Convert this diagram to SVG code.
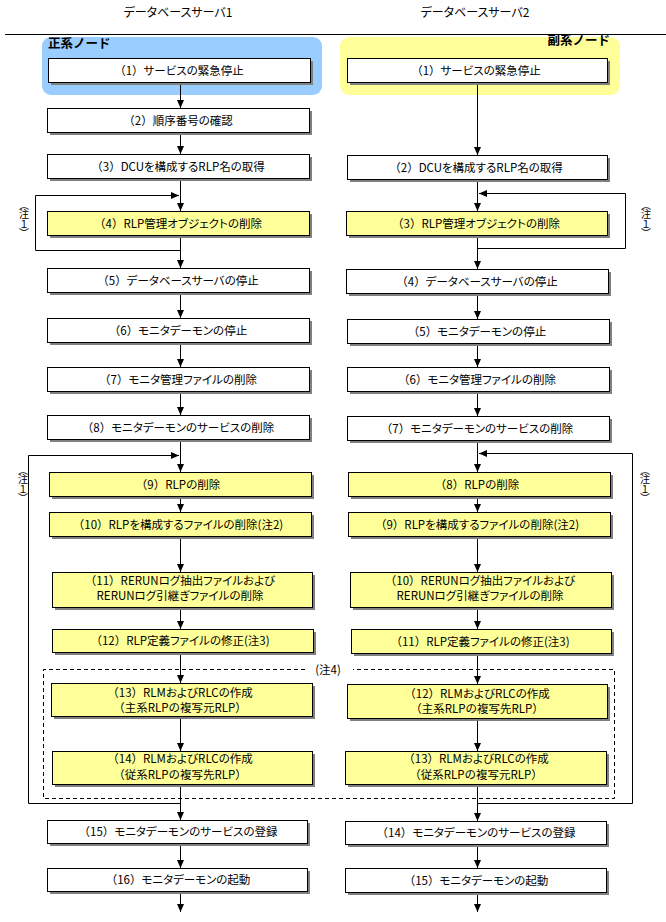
<svg xmlns="http://www.w3.org/2000/svg" width="666" height="922" viewBox="0 0 666 922">
<defs>
<marker id="ah" markerWidth="8" markerHeight="8" viewBox="0 0 8 8" refX="8" refY="4" orient="auto" markerUnits="userSpaceOnUse"><path d="M0,0.5 L8,4 L0,7.5 z" fill="#000"/></marker>
<style>
.sh{fill:#808080}
.bw{fill:#fff;stroke:#000;stroke-width:1}
.by{fill:#ffff99;stroke:#000;stroke-width:1}
.t{font-family:"Noto Sans CJK JP","Noto Sans",sans-serif;font-size:11.5px;text-anchor:middle;fill:#000;font-feature-settings:"palt"}
.n{font-feature-settings:normal}
.h{font-family:"Noto Sans CJK JP","Noto Sans",sans-serif;font-size:12px;text-anchor:middle;fill:#000;font-feature-settings:"palt"}
.lb{font-family:"Noto Sans CJK JP","Noto Sans",sans-serif;font-size:12.5px;font-weight:bold;fill:#000}
.v{font-family:"Noto Sans CJK JP","Noto Sans",sans-serif;font-size:10px;text-anchor:middle;fill:#000;writing-mode:vertical-rl;font-feature-settings:"vpal"}
.c{stroke:#000;fill:none;stroke-width:1}
.a{marker-end:url(#ah)}
.d{stroke:#000;fill:none;stroke-width:1;stroke-dasharray:4,3}
</style>
</defs>
<rect width="666" height="922" fill="#fff"/>

<g id="header">
<text class="h" x="178" y="17">データベースサーバ1</text>
<text class="h" x="475" y="17">データベースサーバ2</text>
<line class="c" x1="5" y1="34.5" x2="666" y2="34.5"/>
</g>

<g id="primary-node">
<rect x="42" y="37" width="280" height="58" rx="9" fill="#99ccff"/>
<text class="lb" x="48" y="48">正系ノード</text>
</g>
<g id="secondary-node">
<rect x="340" y="37" width="280" height="58" rx="9" fill="#ffff99"/>
<text class="lb" x="610" y="45" text-anchor="end">副系ノード</text>
</g>

<g id="connectors">
<path class="c a" d="M180.5,82 V108"/>
<path class="c a" d="M180.5,132 V154"/>
<path class="c a" d="M180.5,178 V211"/>
<path class="c a" d="M180.5,250.5 H35.5 V195.5 H179"/>
<path class="c a" d="M180.5,235 V268"/>
<path class="c a" d="M180.5,292 V318"/>
<path class="c a" d="M180.5,342 V367"/>
<path class="c a" d="M180.5,391 V415"/>
<path class="c a" d="M180.5,439 V472"/>
<path class="c a" d="M180.5,803.5 H28.5 V455.5 H179"/>
<path class="c a" d="M180.5,496 V512"/>
<path class="c a" d="M180.5,536 V572"/>
<path class="c a" d="M180.5,607 V629"/>
<path class="c a" d="M180.5,652 V683"/>
<path class="c a" d="M180.5,716 V751"/>
<path class="c a" d="M180.5,784 V820"/>
<path class="c a" d="M180.5,843 V868"/>
<path class="c a" d="M180.5,891 V912"/>

<path class="c a" d="M477.5,82 V155"/>
<path class="c a" d="M477.5,179 V211"/>
<path class="c a" d="M477.5,248.5 H625.5 V193.5 H479"/>
<path class="c a" d="M477.5,235 V269"/>
<path class="c a" d="M477.5,293 V319"/>
<path class="c a" d="M477.5,343 V367"/>
<path class="c a" d="M477.5,391 V416"/>
<path class="c a" d="M477.5,440 V472"/>
<path class="c a" d="M477.5,803.5 H632.5 V453.5 H479"/>
<path class="c a" d="M477.5,496 V512"/>
<path class="c a" d="M477.5,536 V572"/>
<path class="c a" d="M477.5,607 V629"/>
<path class="c a" d="M477.5,653 V684"/>
<path class="c a" d="M477.5,718 V751"/>
<path class="c a" d="M477.5,784 V821"/>
<path class="c a" d="M477.5,844 V868"/>
<path class="c a" d="M477.5,892 V912"/>
</g>

<g id="note4">
<path class="d" d="M305,669.5 H43.5 V798.5 H614.5 V669.5 H353"/>
<text class="t" x="328" y="674" style="font-feature-settings:normal">(注4)</text>
</g>

<g id="note1-a"><text class="v" x="24" y="219">（注１）</text></g>
<g id="note1-b"><text class="v" x="646" y="219">（注１）</text></g>
<g id="note1-c"><text class="v" x="23" y="484">（注１）</text></g>
<g id="note1-d"><text class="v" x="645" y="484">（注１）</text></g>

<g id="L1"><rect class="sh" x="51" y="61" width="262" height="24"/><rect class="bw" x="48.5" y="58.5" width="262" height="24"/><text class="t" x="179" y="74.5"><tspan class="n">（1）</tspan>サービスの緊急停止</text></g>
<g id="L2"><rect class="sh" x="50" y="111" width="262" height="24"/><rect class="bw" x="47.5" y="108.5" width="262" height="24"/><text class="t" x="178" y="124.5"><tspan class="n">（2）</tspan>順序番号の確認</text></g>
<g id="L3"><rect class="sh" x="50" y="157" width="262" height="24"/><rect class="bw" x="47.5" y="154.5" width="262" height="24"/><text class="t" x="178" y="170.5"><tspan class="n">（3）</tspan>DCUを構成するRLP名の取得</text></g>
<g id="L4"><rect class="sh" x="50" y="214" width="262" height="24"/><rect class="by" x="47.5" y="211.5" width="262" height="24"/><text class="t" x="178" y="227.5"><tspan class="n">（4）</tspan>RLP管理オブジェクトの削除</text></g>
<g id="L5"><rect class="sh" x="50" y="271" width="262" height="24"/><rect class="bw" x="47.5" y="268.5" width="262" height="24"/><text class="t" x="178" y="284.5"><tspan class="n">（5）</tspan>データベースサーバの停止</text></g>
<g id="L6"><rect class="sh" x="50" y="321" width="262" height="24"/><rect class="bw" x="47.5" y="318.5" width="262" height="24"/><text class="t" x="178" y="334.5"><tspan class="n">（6）</tspan>モニタデーモンの停止</text></g>
<g id="L7"><rect class="sh" x="50" y="370" width="262" height="24"/><rect class="bw" x="47.5" y="367.5" width="262" height="24"/><text class="t" x="178" y="383.5"><tspan class="n">（7）</tspan>モニタ管理ファイルの削除</text></g>
<g id="L8"><rect class="sh" x="50" y="418" width="262" height="24"/><rect class="bw" x="47.5" y="415.5" width="262" height="24"/><text class="t" x="178" y="431.5"><tspan class="n">（8）</tspan>モニタデーモンのサービスの削除</text></g>
<g id="L9"><rect class="sh" x="52" y="475" width="262" height="24"/><rect class="by" x="49.5" y="472.5" width="262" height="24"/><text class="t" x="178" y="488.5"><tspan class="n">（9）</tspan>RLPの削除</text></g>
<g id="L10"><rect class="sh" x="52" y="515" width="262" height="24"/><rect class="by" x="49.5" y="512.5" width="262" height="24"/><text class="t" x="178" y="528.5"><tspan class="n">（10）</tspan>RLPを構成するファイルの削除(注2)</text></g>
<g id="L11"><rect class="sh" x="55" y="575" width="260" height="35"/><rect class="by" x="52.5" y="572.5" width="260" height="35"/><text class="t" x="180" y="584.5"><tspan class="n">（11）</tspan>RERUNログ抽出ファイルおよび</text><text class="t" x="180" y="599.5">RERUNログ引継ぎファイルの削除</text></g>
<g id="L12"><rect class="sh" x="55" y="632" width="261" height="23"/><rect class="by" x="52.5" y="629.5" width="261" height="23"/><text class="t" x="180" y="645"><tspan class="n">（12）</tspan>RLP定義ファイルの修正(注3)</text></g>
<g id="L13"><rect class="sh" x="54" y="686" width="261" height="33"/><rect class="by" x="51.5" y="683.5" width="261" height="33"/><text class="t" x="180" y="696.5"><tspan class="n">（13）</tspan>RLMおよびRLCの作成</text><text class="t n" x="180" y="711.5">（主系RLPの複写元RLP）</text></g>
<g id="L14"><rect class="sh" x="55" y="754" width="260" height="33"/><rect class="by" x="52.5" y="751.5" width="260" height="33"/><text class="t" x="180" y="763"><tspan class="n">（14）</tspan>RLMおよびRLCの作成</text><text class="t n" x="180" y="778.5">（従系RLPの複写先RLP）</text></g>
<g id="L15"><rect class="sh" x="50" y="823" width="260" height="23"/><rect class="bw" x="47.5" y="820.5" width="260" height="23"/><text class="t" x="178" y="836"><tspan class="n">（15）</tspan>モニタデーモンのサービスの登録</text></g>
<g id="L16"><rect class="sh" x="50" y="871" width="260" height="23"/><rect class="bw" x="47.5" y="868.5" width="260" height="23"/><text class="t" x="178" y="884"><tspan class="n">（16）</tspan>モニタデーモンの起動</text></g>

<g id="R1"><rect class="sh" x="350" y="61" width="260" height="24"/><rect class="bw" x="347.5" y="58.5" width="260" height="24"/><text class="t" x="476" y="74.5"><tspan class="n">（1）</tspan>サービスの緊急停止</text></g>
<g id="R2"><rect class="sh" x="350" y="158" width="260" height="24"/><rect class="bw" x="347.5" y="155.5" width="260" height="24"/><text class="t" x="476" y="171.5"><tspan class="n">（2）</tspan>DCUを構成するRLP名の取得</text></g>
<g id="R3"><rect class="sh" x="349" y="214" width="261" height="24"/><rect class="by" x="346.5" y="211.5" width="261" height="24"/><text class="t" x="476" y="227.5"><tspan class="n">（3）</tspan>RLP管理オブジェクトの削除</text></g>
<g id="R4"><rect class="sh" x="349" y="272" width="262" height="24"/><rect class="bw" x="346.5" y="269.5" width="262" height="24"/><text class="t" x="477" y="285.5"><tspan class="n">（4）</tspan>データベースサーバの停止</text></g>
<g id="R5"><rect class="sh" x="350" y="322" width="262" height="24"/><rect class="bw" x="347.5" y="319.5" width="262" height="24"/><text class="t" x="477" y="335.5"><tspan class="n">（5）</tspan>モニタデーモンの停止</text></g>
<g id="R6"><rect class="sh" x="350" y="370" width="262" height="24"/><rect class="bw" x="347.5" y="367.5" width="262" height="24"/><text class="t" x="477" y="383.5"><tspan class="n">（6）</tspan>モニタ管理ファイルの削除</text></g>
<g id="R7"><rect class="sh" x="350" y="419" width="262" height="24"/><rect class="bw" x="347.5" y="416.5" width="262" height="24"/><text class="t" x="477" y="432.5"><tspan class="n">（7）</tspan>モニタデーモンのサービスの削除</text></g>
<g id="R8"><rect class="sh" x="351" y="475" width="262" height="24"/><rect class="by" x="348.5" y="472.5" width="262" height="24"/><text class="t" x="477" y="488.5"><tspan class="n">（8）</tspan>RLPの削除</text></g>
<g id="R9"><rect class="sh" x="351" y="515" width="262" height="24"/><rect class="by" x="348.5" y="512.5" width="262" height="24"/><text class="t" x="477" y="528.5"><tspan class="n">（9）</tspan>RLPを構成するファイルの削除(注2)</text></g>
<g id="R10"><rect class="sh" x="353" y="575" width="261" height="35"/><rect class="by" x="350.5" y="572.5" width="261" height="35"/><text class="t" x="480" y="584.5"><tspan class="n">（10）</tspan>RERUNログ抽出ファイルおよび</text><text class="t" x="480" y="599.5">RERUNログ引継ぎファイルの削除</text></g>
<g id="R11"><rect class="sh" x="354" y="632" width="260" height="24"/><rect class="by" x="351.5" y="629.5" width="260" height="24"/><text class="t" x="480" y="645.5"><tspan class="n">（11）</tspan>RLP定義ファイルの修正(注3)</text></g>
<g id="R12"><rect class="sh" x="350" y="687" width="260" height="34"/><rect class="by" x="347.5" y="684.5" width="260" height="34"/><text class="t" x="477" y="697.5"><tspan class="n">（12）</tspan>RLMおよびRLCの作成</text><text class="t n" x="477" y="712.5">（主系RLPの複写先RLP）</text></g>
<g id="R13"><rect class="sh" x="348" y="754" width="261" height="33"/><rect class="by" x="345.5" y="751.5" width="261" height="33"/><text class="t" x="476" y="763"><tspan class="n">（13）</tspan>RLMおよびRLCの作成</text><text class="t n" x="476" y="778.5">（従系RLPの複写元RLP）</text></g>
<g id="R14"><rect class="sh" x="348" y="824" width="261" height="23"/><rect class="bw" x="345.5" y="821.5" width="261" height="23"/><text class="t" x="476" y="837"><tspan class="n">（14）</tspan>モニタデーモンのサービスの登録</text></g>
<g id="R15"><rect class="sh" x="348" y="871" width="261" height="24"/><rect class="bw" x="345.5" y="868.5" width="261" height="24"/><text class="t" x="476" y="884.5"><tspan class="n">（15）</tspan>モニタデーモンの起動</text></g>
</svg>
